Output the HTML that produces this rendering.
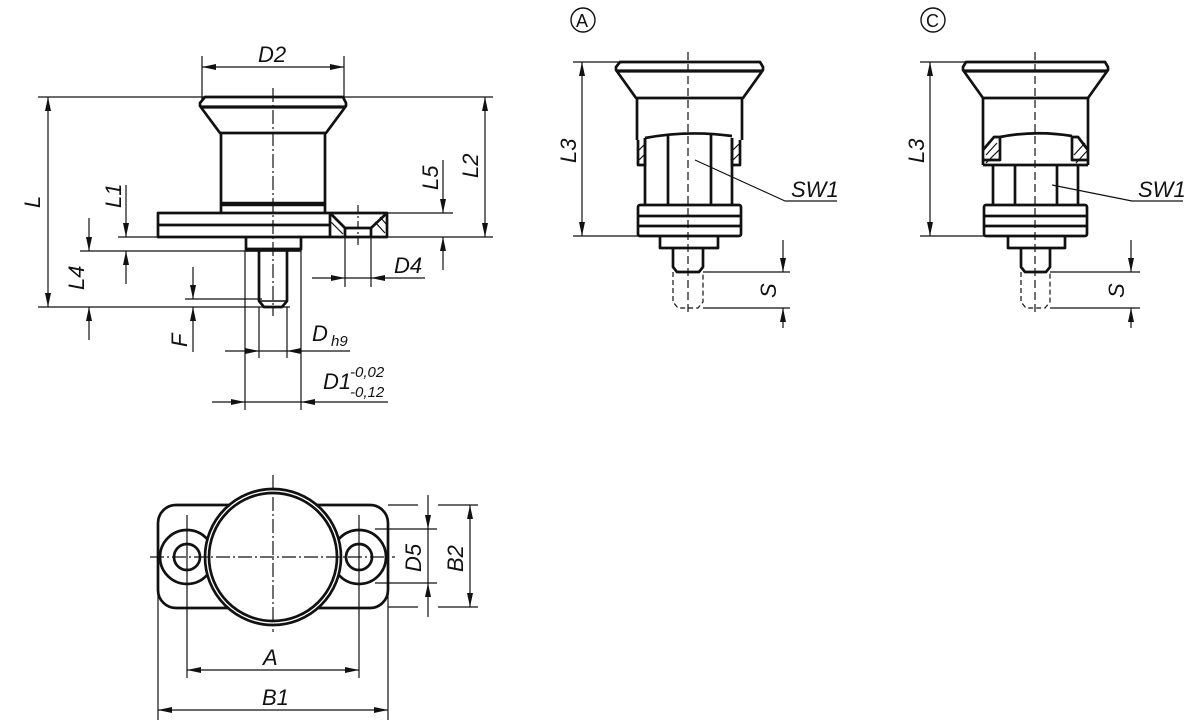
<!DOCTYPE html>
<html><head><meta charset="utf-8"><style>
html,body{margin:0;padding:0;background:#fff;}
svg{display:block}
text{font-family:"Liberation Sans Narrow","Liberation Sans",sans-serif;font-style:italic;font-size:22px;fill:#111}
</style></head><body>
<svg width="1200" height="723" viewBox="0 0 1200 723" xmlns="http://www.w3.org/2000/svg">
<defs>
<marker id="ar" viewBox="0 0 14 6" refX="14" refY="3" markerWidth="14" markerHeight="6" orient="auto-start-reverse" markerUnits="userSpaceOnUse"><path d="M0,0 L14,3 L0,6 z" fill="#111"/></marker>
</defs>
<g fill="none" stroke="#111" stroke-linejoin="round">
<!-- ============ LEFT SIDE VIEW ============ -->
<g stroke-width="1.2">
<line x1="202" y1="56" x2="202" y2="100"/><line x1="344" y1="56" x2="344" y2="100"/>
<line x1="202" y1="67" x2="344" y2="67" marker-start="url(#ar)" marker-end="url(#ar)"/>
<line x1="38" y1="97" x2="493" y2="97"/>
<line x1="118" y1="237" x2="493" y2="237"/>
<line x1="387" y1="213" x2="453" y2="213"/>
<line x1="80" y1="251" x2="300" y2="251"/>
<line x1="38" y1="307" x2="290" y2="307"/>
<line x1="185" y1="299" x2="262" y2="299"/>
<line x1="48" y1="97" x2="48" y2="307" marker-start="url(#ar)" marker-end="url(#ar)"/>
<line x1="485" y1="97" x2="485" y2="237" marker-start="url(#ar)" marker-end="url(#ar)"/>
<line x1="443" y1="160" x2="443" y2="213" marker-end="url(#ar)"/><line x1="443" y1="270" x2="443" y2="237" marker-end="url(#ar)"/>
<line x1="126" y1="185" x2="126" y2="237" marker-end="url(#ar)"/><line x1="126" y1="284" x2="126" y2="251" marker-end="url(#ar)"/>
<line x1="89" y1="218" x2="89" y2="251" marker-end="url(#ar)"/><line x1="89" y1="340" x2="89" y2="307" marker-end="url(#ar)"/>
<line x1="193" y1="267" x2="193" y2="299" marker-end="url(#ar)"/><line x1="193" y1="352" x2="193" y2="307" marker-end="url(#ar)"/>
<line x1="345" y1="237" x2="345" y2="287"/><line x1="371" y1="237" x2="371" y2="287"/>
<line x1="312" y1="278" x2="345" y2="278" marker-end="url(#ar)"/><line x1="425" y1="278" x2="371" y2="278" marker-end="url(#ar)"/><line x1="345" y1="278" x2="371" y2="278"/>
<line x1="259" y1="307" x2="259" y2="358"/><line x1="287" y1="307" x2="287" y2="358"/>
<line x1="225" y1="351" x2="259" y2="351" marker-end="url(#ar)"/><line x1="350" y1="351" x2="287" y2="351" marker-end="url(#ar)"/><line x1="259" y1="351" x2="287" y2="351"/>
<line x1="245" y1="250" x2="245" y2="410"/><line x1="301" y1="250" x2="301" y2="410"/>
<line x1="212" y1="402" x2="245" y2="402" marker-end="url(#ar)"/><line x1="388" y1="402" x2="301" y2="402" marker-end="url(#ar)"/><line x1="245" y1="402" x2="301" y2="402"/>
<line x1="273" y1="88" x2="273" y2="316" stroke-dasharray="14,3,2,3"/>
<line x1="358" y1="205" x2="358" y2="245" stroke-dasharray="8,3,2,3"/>
<line x1="331" y1="222" x2="343" y2="234"/><line x1="334" y1="216" x2="346" y2="229"/>
<line x1="375" y1="222" x2="385" y2="233"/><line x1="380" y1="217" x2="387" y2="225"/>
</g>
<g stroke-width="2.7">
<path d="M205,97 L343,97 L346,103 L346,106 L326,133 L220,133 L200,106 L200,103 Z"/>
<line x1="201" y1="107" x2="345" y2="107" stroke-width="3.2"/>
<path d="M221,133 L221,213 M325,133 L325,213"/>
<line x1="221" y1="204" x2="325" y2="204" stroke-width="4.5"/>
<rect x="158" y="213" width="229" height="24"/>
<line x1="158" y1="225" x2="330" y2="225"/>
<path d="M330,213 L345,228 L371,228 L387,213 M345,228 L345,237 M371,228 L371,237 M330,213 L330,237"/>
<path d="M246,237 L246,249 L301,249 L301,237"/>
<line x1="246" y1="250" x2="301" y2="250" stroke-width="3.5"/>
<path d="M259,251 L259,301 L264,307 L282,307 L287,301 L287,251"/>
<line x1="259" y1="301" x2="287" y2="301" stroke-width="1.5"/>
</g>
<!-- ============ VIEW A ============ -->
<circle cx="583" cy="20" r="12" stroke-width="1.4"/>
<g stroke-width="1.2">
<line x1="573" y1="62" x2="620" y2="62"/><line x1="573" y1="236" x2="640" y2="236"/>
<line x1="582" y1="62" x2="582" y2="236" marker-start="url(#ar)" marker-end="url(#ar)"/>
<line x1="703" y1="272" x2="790" y2="272"/><line x1="703" y1="308" x2="790" y2="308"/>
<line x1="783" y1="240" x2="783" y2="272" marker-end="url(#ar)"/><line x1="783" y1="328" x2="783" y2="308" marker-end="url(#ar)"/>
<line x1="688" y1="52" x2="688" y2="312" stroke-dasharray="8,4"/>
<path d="M695,160 L785,201 L837,201"/>
<path d="M673,272 L673,302 L678,308 L698,308 L703,302 L703,272" stroke-dasharray="5,3"/>
<line x1="639" y1="150" x2="645" y2="144"/><line x1="639" y1="160" x2="645" y2="154"/><line x1="733" y1="150" x2="739" y2="144"/><line x1="733" y1="160" x2="739" y2="154"/>
</g>
<g stroke-width="2.7">
<path d="M620,62 L760,62 L763,67 L763,70 L743,98 L636,98 L616,70 L616,67 Z"/>
<line x1="617" y1="71" x2="762" y2="71" stroke-width="3.2"/>
<path d="M637,98 L637,140 M742,98 L742,140"/>
<path d="M638,140 L638,165 L645,165 L645,138 M740,140 L740,165 L732,165 L732,138"/>
<path d="M645,138 Q688,130 732,136"/>
<path d="M645,138 L645,205 M732,138 L732,205 M668,134 L668,205 M711,134 L711,205"/>
<rect x="638" y="205" width="103" height="31" rx="2"/>
<line x1="638" y1="216" x2="741" y2="216"/><line x1="638" y1="226" x2="741" y2="226"/>
<path d="M660,236 L660,248 L718,248 L718,236"/>
<path d="M673,248 L673,267 L677,272 L699,272 L703,267 L703,248"/>
</g>
<!-- ============ VIEW C ============ -->
<circle cx="933" cy="20" r="12" stroke-width="1.4"/>
<g stroke-width="1.2">
<line x1="920" y1="62" x2="966" y2="62"/><line x1="920" y1="236" x2="985" y2="236"/>
<line x1="930" y1="62" x2="930" y2="236" marker-start="url(#ar)" marker-end="url(#ar)"/>
<line x1="1050" y1="272" x2="1140" y2="272"/><line x1="1050" y1="308" x2="1140" y2="308"/>
<line x1="1131" y1="240" x2="1131" y2="272" marker-end="url(#ar)"/><line x1="1131" y1="328" x2="1131" y2="308" marker-end="url(#ar)"/>
<line x1="1035" y1="52" x2="1035" y2="312" stroke-dasharray="8,4"/>
<path d="M1052,185 L1132,201 L1183,201"/>
<path d="M1021,272 L1021,302 L1026,308 L1045,308 L1050,302 L1050,272" stroke-dasharray="5,3"/>
<line x1="986" y1="155" x2="997" y2="143"/><line x1="986" y1="163" x2="999" y2="150"/><line x1="1074" y1="155" x2="1085" y2="143"/><line x1="1076" y1="163" x2="1087" y2="151"/>
</g>
<g stroke-width="2.7">
<path d="M966,62 L1105,62 L1108,67 L1108,70 L1088,98 L983,98 L963,70 L963,67 Z"/>
<line x1="964" y1="71" x2="1107" y2="71" stroke-width="3.2"/>
<path d="M983,98 L983,165 M1088,98 L1088,165"/>
<path d="M983,160 L1000,160 L1000,137 L994,137 L983,150 M1088,160 L1072,160 L1072,137 L1078,137 L1088,150"/>
<path d="M1000,137 Q1036,130 1072,136"/>
<path d="M983,165 L1088,165"/>
<path d="M993,165 L993,205 M1078,165 L1078,205 M1015,165 L1015,205 M1057,165 L1057,205"/>
<rect x="984" y="205" width="103" height="31" rx="2"/>
<line x1="984" y1="216" x2="1087" y2="216"/><line x1="984" y1="226" x2="1087" y2="226"/>
<path d="M1008,236 L1008,248 L1065,248 L1065,236"/>
<path d="M1021,248 L1021,267 L1025,272 L1046,272 L1050,267 L1050,248"/>
</g>
<!-- ============ BOTTOM VIEW ============ -->
<g stroke-width="2.7">
<rect x="158" y="505" width="230" height="103" rx="18" />
<circle cx="187" cy="557" r="27"/><circle cx="359" cy="557" r="27"/>
<circle cx="187" cy="557" r="13"/><circle cx="359" cy="557" r="13"/>
<circle cx="273" cy="557" r="68" fill="#fff"/>
<circle cx="273" cy="557" r="64"/>
</g>
<g stroke-width="1.2">
<line x1="150" y1="557" x2="395" y2="557" stroke-dasharray="14,3,2,3"/>
<line x1="273" y1="475" x2="273" y2="632" stroke-dasharray="14,3,2,3"/>
<line x1="187" y1="515" x2="187" y2="678"/><line x1="359" y1="515" x2="359" y2="678"/>
<line x1="158" y1="560" x2="158" y2="720"/><line x1="388" y1="560" x2="388" y2="720"/>
<line x1="375" y1="529" x2="437" y2="529"/><line x1="375" y1="583" x2="437" y2="583"/>
<line x1="428" y1="495" x2="428" y2="529" marker-end="url(#ar)"/><line x1="428" y1="617" x2="428" y2="583" marker-end="url(#ar)"/><line x1="428" y1="529" x2="428" y2="583"/>
<line x1="388" y1="505" x2="418" y2="505"/><line x1="388" y1="607" x2="418" y2="607"/>
<line x1="438" y1="505" x2="478" y2="505"/><line x1="438" y1="607" x2="478" y2="607"/>
<line x1="470" y1="505" x2="470" y2="607" marker-start="url(#ar)" marker-end="url(#ar)"/>
<line x1="187" y1="670" x2="359" y2="670" marker-start="url(#ar)" marker-end="url(#ar)"/>
<line x1="158" y1="710" x2="388" y2="710" marker-start="url(#ar)" marker-end="url(#ar)"/>
</g>
</g>
<!-- TEXT -->
<text x="258" y="62">D2</text>
<text transform="translate(40,208) rotate(-90)">L</text>
<text transform="translate(478,178) rotate(-90)">L2</text>
<text transform="translate(438,190) rotate(-90)">L5</text>
<text transform="translate(121,208) rotate(-90)">L1</text>
<text transform="translate(84,290) rotate(-90)">L4</text>
<text transform="translate(187,347) rotate(-90)">F</text>
<text x="394" y="273">D4</text>
<text x="312" y="341">D</text><text x="331" y="346" style="font-size:15px">h9</text>
<text x="323" y="389">D1</text><text x="350" y="377" style="font-size:15px">-0,02</text><text x="350" y="397" style="font-size:15px">-0,12</text>
<text x="576" y="27" style="font-style:normal;font-size:18px">A</text>
<text x="926" y="27" style="font-style:normal;font-size:18px">C</text>
<text transform="translate(576,163) rotate(-90)">L3</text>
<text transform="translate(924,163) rotate(-90)">L3</text>
<text transform="translate(776,298) rotate(-90)">S</text>
<text transform="translate(1124,298) rotate(-90)">S</text>
<text x="791" y="197">SW1</text>
<text x="1138" y="197">SW1</text>
<text transform="translate(421,572) rotate(-90)">D5</text>
<text transform="translate(463,572) rotate(-90)">B2</text>
<text x="263" y="665">A</text>
<text x="262" y="705">B1</text>
</svg>
</body></html>
